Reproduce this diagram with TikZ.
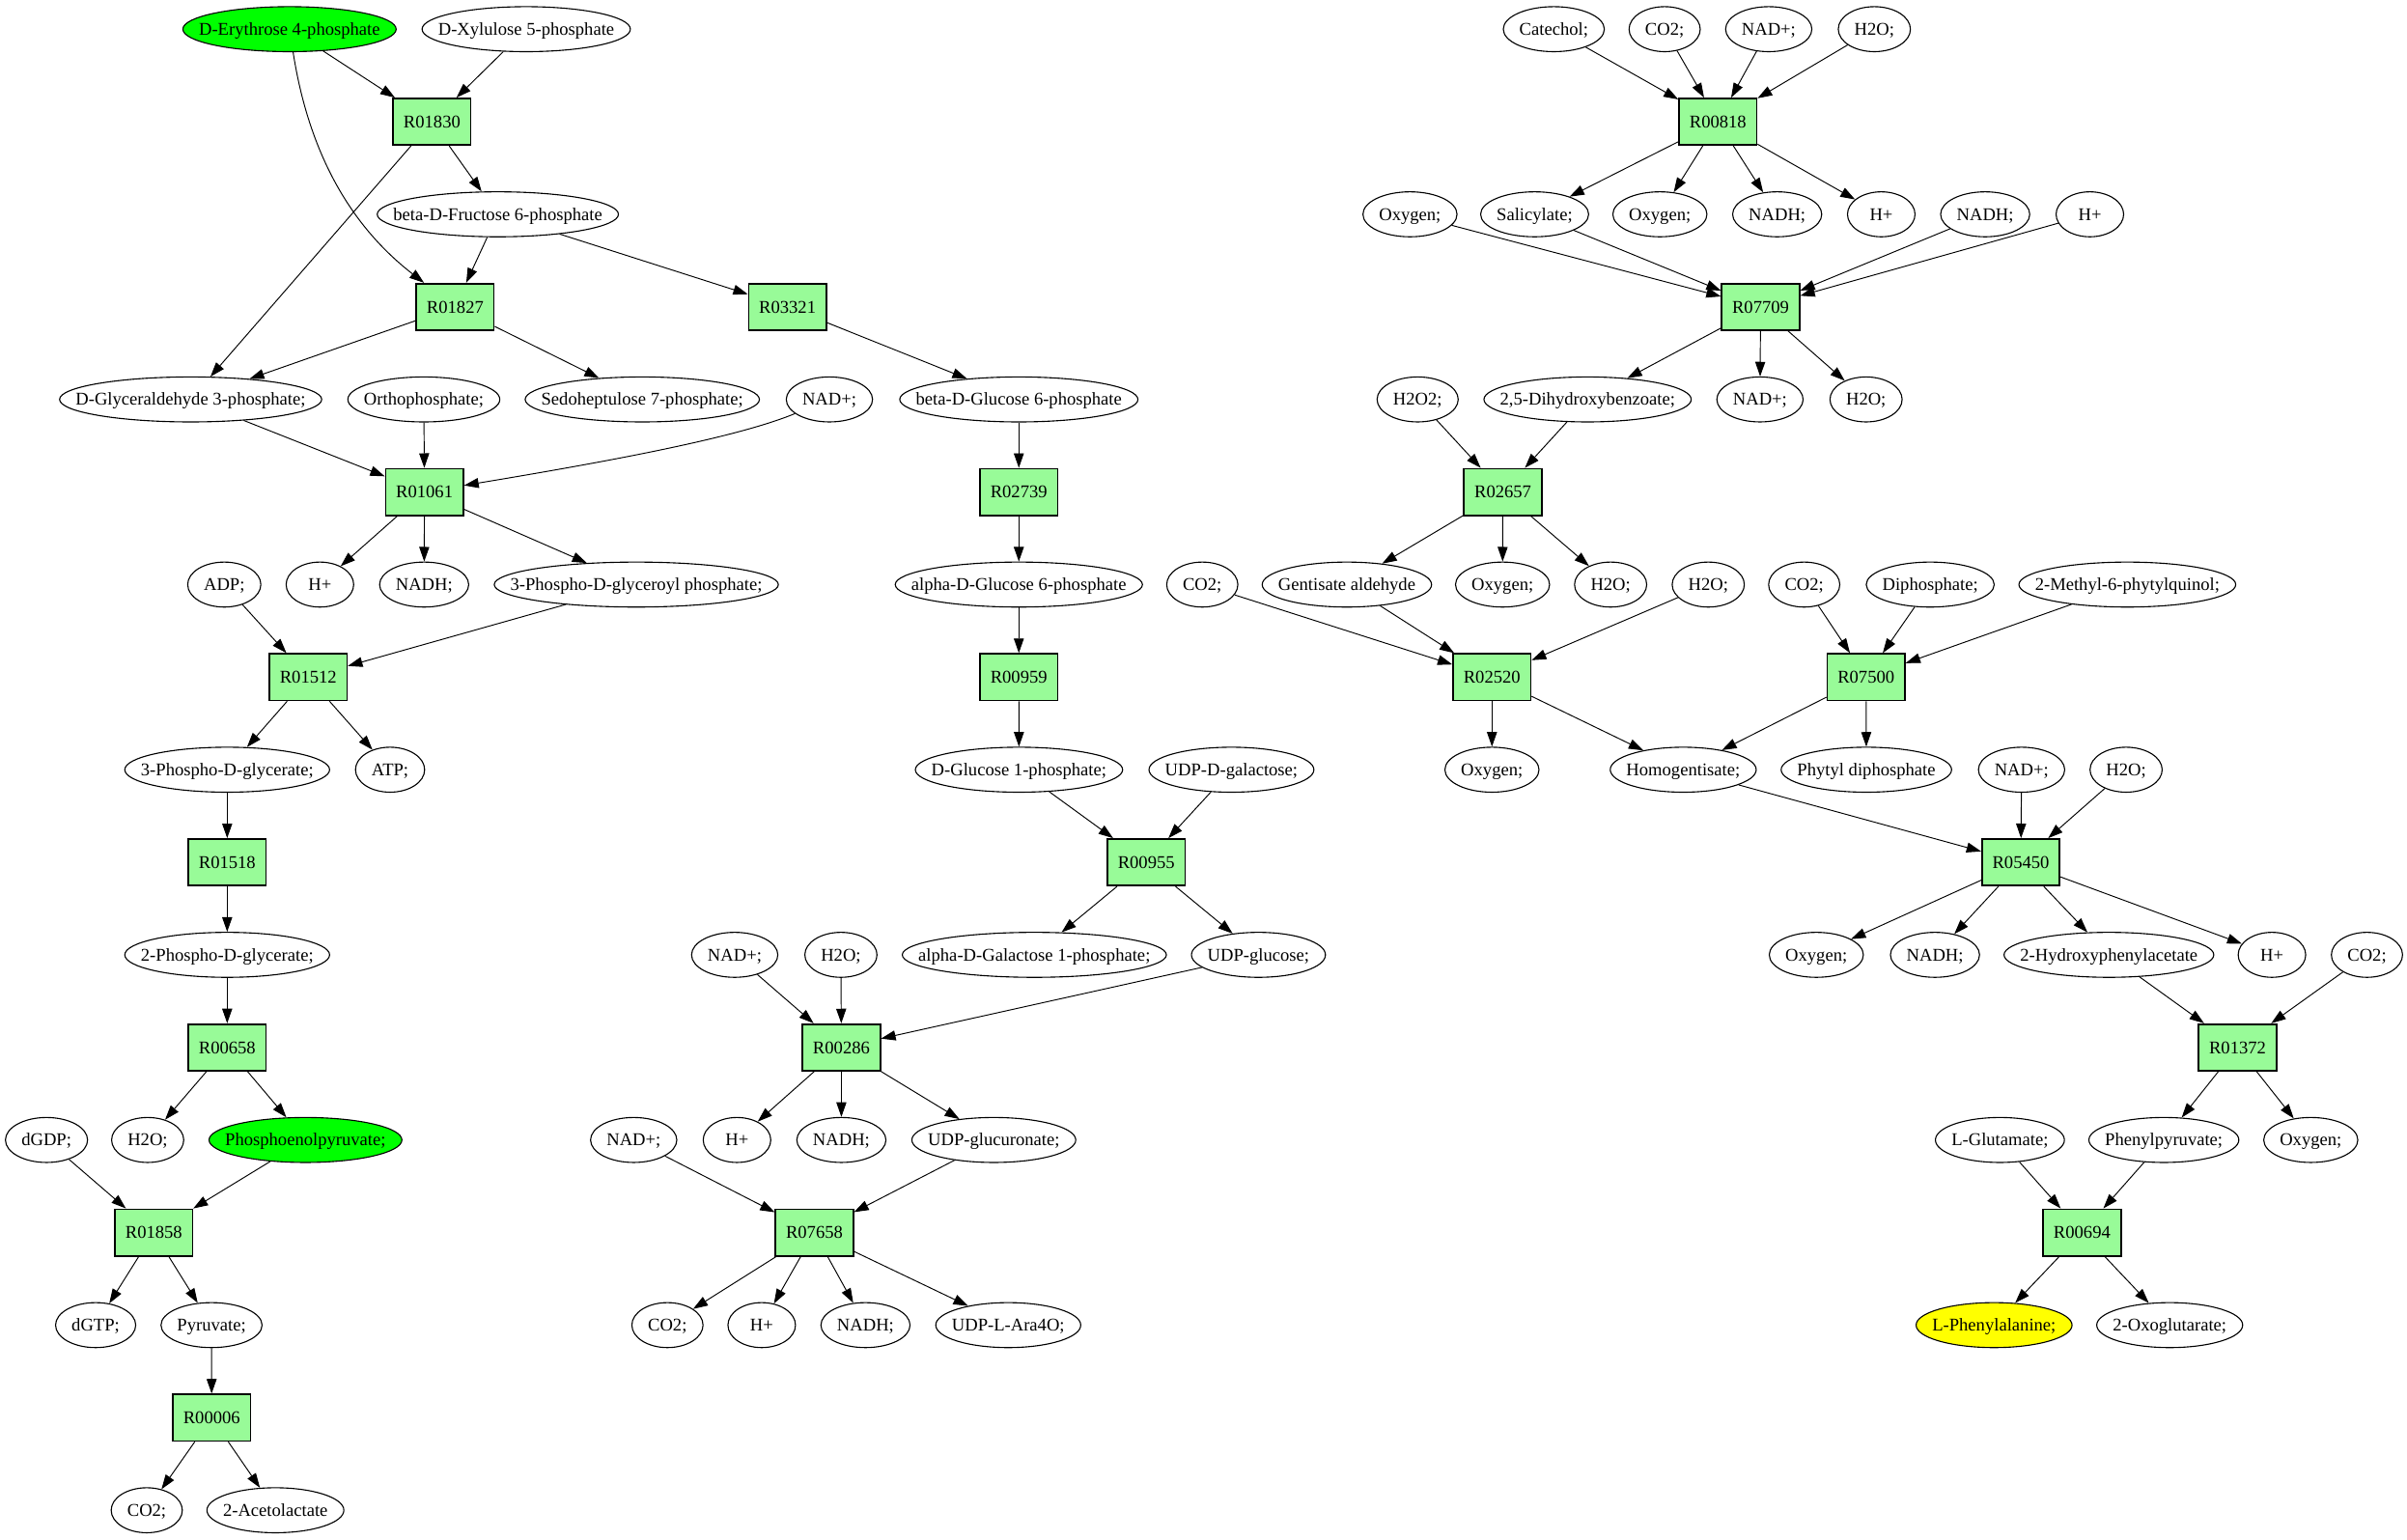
\documentclass[tikz,border=0pt]{standalone}
\usepackage{fontspec}
\setmainfont{Liberation Serif}
\usetikzlibrary{arrows.meta}
\usetikzlibrary{shapes.geometric}

\definecolor{rxngreen}{HTML}{98FB98}
\definecolor{startgreen}{HTML}{00FF00}
\definecolor{endyellow}{HTML}{FFFF00}

\newcommand{\gvfont}{\fontsize{11.7pt}{14pt}\selectfont}
\newdimen\metwidth
% metabolite ellipse: [extra style]{name}{x,y}{label}
\newcommand{\metab}[4][]{%
	\pgfinterruptpicture
		\settowidth{\metwidth}{\normalfont\gvfont #4}%
		\global\metwidth=\metwidth
	\endpgfinterruptpicture
	\global\advance\metwidth by 21pt
	\ifdim\metwidth<44pt \global\metwidth=44pt\fi
	\node[met,#1,minimum width=\metwidth] (#2) at (#3) {\makebox[0pt]{#4}};}

\begin{document}
\begin{tikzpicture}[x=1pt, y=-1pt, font=\gvfont,
	met/.style={ellipse, draw, line width=0.7pt, inner sep=0pt, minimum height=29.3pt, text height=7.8pt, text depth=0pt},
	rxn/.style={rectangle, draw, fill=rxngreen, line width=1.1pt, inner xsep=6.75pt, minimum height=30.3pt, text height=7.8pt, text depth=0pt},
	flow/.style={line width=0.6pt, -{Triangle[length=9.5pt, width=6.5pt]}}]
	%\draw[style=help lines,gray!50] (0,0) grid[step=50] (1568,1003);
	\useasboundingbox (0,0) rectangle (1568,1003);

	% row 0
	\metab[fill=startgreen]{ery4p}{188.6,19}{D-Erythrose 4-phosphate}
	\metab{xu5p}{342.8,19}{D-Xylulose 5-phosphate}
	\metab{catechol}{1012.2,19}{Catechol;}
	\metab{co2a}{1084.4,19}{CO2;}
	\metab{nada}{1152.2,19}{NAD+;}
	\metab{h2oa}{1221,19}{H2O;}
	% row 1
	\node[rxn] at (281.4,79.3) (r01830) {R01830};
	\node[rxn] at (1119.1,79.3) (r00818) {R00818};
	% row 2
	\metab{f6p}{324.3,139.6}{beta-D-Fructose 6-phosphate}
	\metab{oxya}{918.5,139.6}{Oxygen;}
	\metab{salicylate}{999.7,139.6}{Salicylate;}
	\metab{oxyb}{1081.3,139.6}{Oxygen;}
	\metab{nadha}{1157.7,139.6}{NADH;}
	\metab{hpa}{1225.5,139.6}{H+}
	\metab{nadhb}{1293.2,139.6}{NADH;}
	\metab{hpb}{1361.4,139.6}{H+}
	% row 3
	\node[rxn] at (296.5,199.9) (r01827) {R01827};
	\node[rxn] at (513,199.9) (r03321) {R03321};
	\node[rxn] at (1146.9,199.9) (r07709) {R07709};
	% row 4
	\metab{gap}{124.2,260.2}{D-Glyceraldehyde 3-phosphate;}
	\metab{pi}{276.1,260.2}{Orthophosphate;}
	\metab{s7p}{418.4,260.2}{Sedoheptulose 7-phosphate;}
	\metab{nadb}{540.3,260.2}{NAD+;}
	\metab{bg6p}{663.7,260.2}{beta-D-Glucose 6-phosphate}
	\metab{h2o2}{923.5,260.2}{H2O2;}
	\metab{dhb}{1034.2,260.2}{2,5-Dihydroxybenzoate;}
	\metab{nadc}{1146.5,260.2}{NAD+;}
	\metab{h2ob}{1215.6,260.2}{H2O;}
	% row 5
	\node[rxn] at (276.5,320.5) (r01061) {R01061};
	\node[rxn] at (663.7,320.5) (r02739) {R02739};
	\node[rxn] at (979,320.5) (r02657) {R02657};
	% row 6
	\metab{adp}{146.1,380.8}{ADP;}
	\metab{hpc}{208.4,380.8}{H+}
	\metab{nadhc}{276.3,380.8}{NADH;}
	\metab{bpg}{414.5,380.8}{3-Phospho-D-glyceroyl phosphate;}
	\metab{ag6p}{663.7,380.8}{alpha-D-Glucose 6-phosphate}
	\metab{co2b}{783.2,380.8}{CO2;}
	\metab{gald}{877.4,380.8}{Gentisate aldehyde}
	\metab{oxyc}{978.8,380.8}{Oxygen;}
	\metab{h2oc}{1049.2,380.8}{H2O;}
	\metab{h2od}{1112.8,380.8}{H2O;}
	\metab{co2c}{1175.3,380.8}{CO2;}
	\metab{ppi}{1257.4,380.8}{Diphosphate;}
	\metab{mpq}{1385.8,380.8}{2-Methyl-6-phytylquinol;}
	% row 7
	\node[rxn] at (200.8,441.1) (r01512) {R01512};
	\node[rxn] at (663.7,441.1) (r00959) {R00959};
	\node[rxn] at (971.9,441.1) (r02520) {R02520};
	\node[rxn] at (1215.6,441.1) (r07500) {R07500};
	% row 8
	\metab{pg3}{148,501.4}{3-Phospho-D-glycerate;}
	\metab{atp}{254.1,501.4}{ATP;}
	\metab{g1p}{663.8,501.4}{D-Glucose 1-phosphate;}
	\metab{udpgal}{802.2,501.4}{UDP-D-galactose;}
	\metab{oxyd}{971.9,501.4}{Oxygen;}
	\metab{hga}{1096.5,501.4}{Homogentisate;}
	\metab{phytpp}{1215.8,501.4}{Phytyl diphosphate}
	\metab{nadd}{1316.9,501.4}{NAD+;}
	\metab{h2oe}{1385,501.4}{H2O;}
	% row 9
	\node[rxn] at (148,561.7) (r01518) {R01518};
	\node[rxn] at (746.7,561.7) (r00955) {R00955};
	\node[rxn] at (1316.4,561.7) (r05450) {R05450};
	% row 10
	\metab{pg2}{148,622}{2-Phospho-D-glycerate;}
	\metab{nade}{478.6,622}{NAD+;}
	\metab{h2of}{547.8,622}{H2O;}
	\metab{gal1p}{673.8,622}{alpha-D-Galactose 1-phosphate;}
	\metab{udpglc}{819.8,622}{UDP-glucose;}
	\metab{oxye}{1183.2,622}{Oxygen;}
	\metab{nadhd}{1260.5,622}{NADH;}
	\metab{hpac}{1373.8,622}{2-Hydroxyphenylacetate}
	\metab{hpd}{1480,622}{H+}
	\metab{co2d}{1541.9,622}{CO2;}
	% row 11
	\node[rxn] at (148,682.3) (r00658) {R00658};
	\node[rxn] at (548.1,682.3) (r00286) {R00286};
	\node[rxn] at (1457.6,682.3) (r01372) {R01372};
	% row 12
	\metab{dgdp}{30.3,742.6}{dGDP;}
	\metab{h2og}{96.2,742.6}{H2O;}
	\metab[fill=startgreen]{pep}{199,742.6}{Phosphoenolpyruvate;}
	\metab{nadf}{412.8,742.6}{NAD+;}
	\metab{hpe}{480.1,742.6}{H+}
	\metab{nadhe}{548.1,742.6}{NADH;}
	\metab{udpgla}{647.4,742.6}{UDP-glucuronate;}
	\metab{glu}{1302.8,742.6}{L-Glutamate;}
	\metab{ppyr}{1409.6,742.6}{Phenylpyruvate;}
	\metab{oxyf}{1505.3,742.6}{Oxygen;}
	% row 13
	\node[rxn] at (100.2,802.9) (r01858) {R01858};
	\node[rxn] at (530.5,802.9) (r07658) {R07658};
	\node[rxn] at (1356.3,802.9) (r00694) {R00694};
	% row 14
	\metab{dgtp}{62.3,863.2}{dGTP;}
	\metab{pyr}{137.8,863.2}{Pyruvate;}
	\metab{co2e}{434.8,863.2}{CO2;}
	\metab{hpf}{496.2,863.2}{H+}
	\metab{nadhf}{563.8,863.2}{NADH;}
	\metab{udpara}{656.8,863.2}{UDP-L-Ara4O;}
	\metab[fill=endyellow]{phe}{1299,863.2}{L-Phenylalanine;}
	\metab{akg}{1413.4,863.2}{2-Oxoglutarate;}
	% row 15
	\node[rxn] at (137.9,923.5) (r00006) {R00006};
	% row 16
	\metab{co2f}{95.6,983.8}{CO2;}
	\metab{acl}{179.4,983.8}{2-Acetolactate}

	% left pathway
	\draw[flow] (ery4p) -- (r01830);
	\draw[flow] (xu5p) -- (r01830);
	\draw[flow] (r01830) -- (f6p);
	\draw[flow] (r01830) -- (gap);
	\draw[flow] (ery4p) .. controls (202,105) and (232,150) .. (r01827);
	\draw[flow] (f6p) -- (r01827);
	\draw[flow] (f6p) -- (r03321);
	\draw[flow] (r01827) -- (gap);
	\draw[flow] (r01827) -- (s7p);
	\draw[flow] (r03321) -- (bg6p);
	\draw[flow] (gap) -- (r01061);
	\draw[flow] (pi) -- (r01061);
	\draw[flow] (nadb) .. controls (480,285) and (400,300) .. (r01061);
	\draw[flow] (r01061) -- (hpc);
	\draw[flow] (r01061) -- (nadhc);
	\draw[flow] (r01061) -- (bpg);
	\draw[flow] (adp) -- (r01512);
	\draw[flow] (bpg) -- (r01512);
	\draw[flow] (r01512) -- (pg3);
	\draw[flow] (r01512) -- (atp);
	\draw[flow] (pg3) -- (r01518);
	\draw[flow] (r01518) -- (pg2);
	\draw[flow] (pg2) -- (r00658);
	\draw[flow] (r00658) -- (h2og);
	\draw[flow] (r00658) -- (pep);
	\draw[flow] (dgdp) -- (r01858);
	\draw[flow] (pep) -- (r01858);
	\draw[flow] (r01858) -- (dgtp);
	\draw[flow] (r01858) -- (pyr);
	\draw[flow] (pyr) -- (r00006);
	\draw[flow] (r00006) -- (co2f);
	\draw[flow] (r00006) -- (acl);

	% middle pathway
	\draw[flow] (bg6p) -- (r02739);
	\draw[flow] (r02739) -- (ag6p);
	\draw[flow] (ag6p) -- (r00959);
	\draw[flow] (r00959) -- (g1p);
	\draw[flow] (g1p) -- (r00955);
	\draw[flow] (udpgal) -- (r00955);
	\draw[flow] (r00955) -- (gal1p);
	\draw[flow] (r00955) -- (udpglc);
	\draw[flow] (nade) -- (r00286);
	\draw[flow] (h2of) -- (r00286);
	\draw[flow] (udpglc) -- (r00286);
	\draw[flow] (r00286) -- (hpe);
	\draw[flow] (r00286) -- (nadhe);
	\draw[flow] (r00286) -- (udpgla);
	\draw[flow] (nadf) -- (r07658);
	\draw[flow] (udpgla) -- (r07658);
	\draw[flow] (r07658) -- (co2e);
	\draw[flow] (r07658) -- (hpf);
	\draw[flow] (r07658) -- (nadhf);
	\draw[flow] (r07658) -- (udpara);

	% right pathway
	\draw[flow] (catechol) -- (r00818);
	\draw[flow] (co2a) -- (r00818);
	\draw[flow] (nada) -- (r00818);
	\draw[flow] (h2oa) -- (r00818);
	\draw[flow] (r00818) -- (salicylate);
	\draw[flow] (r00818) -- (oxyb);
	\draw[flow] (r00818) -- (nadha);
	\draw[flow] (r00818) -- (hpa);
	\draw[flow] (oxya) -- (r07709);
	\draw[flow] (salicylate) -- (r07709);
	\draw[flow] (nadhb) -- (r07709);
	\draw[flow] (hpb) -- (r07709);
	\draw[flow] (r07709) -- (dhb);
	\draw[flow] (r07709) -- (nadc);
	\draw[flow] (r07709) -- (h2ob);
	\draw[flow] (h2o2) -- (r02657);
	\draw[flow] (dhb) -- (r02657);
	\draw[flow] (r02657) -- (gald);
	\draw[flow] (r02657) -- (oxyc);
	\draw[flow] (r02657) -- (h2oc);
	\draw[flow] (co2b) -- (r02520);
	\draw[flow] (gald) -- (r02520);
	\draw[flow] (h2od) -- (r02520);
	\draw[flow] (r02520) -- (oxyd);
	\draw[flow] (r02520) -- (hga);
	\draw[flow] (co2c) -- (r07500);
	\draw[flow] (ppi) -- (r07500);
	\draw[flow] (mpq) -- (r07500);
	\draw[flow] (r07500) -- (hga);
	\draw[flow] (r07500) -- (phytpp);
	\draw[flow] (hga) -- (r05450);
	\draw[flow] (nadd) -- (r05450);
	\draw[flow] (h2oe) -- (r05450);
	\draw[flow] (r05450) -- (oxye);
	\draw[flow] (r05450) -- (nadhd);
	\draw[flow] (r05450) -- (hpac);
	\draw[flow] (r05450) -- (hpd);
	\draw[flow] (hpac) -- (r01372);
	\draw[flow] (co2d) -- (r01372);
	\draw[flow] (r01372) -- (ppyr);
	\draw[flow] (r01372) -- (oxyf);
	\draw[flow] (glu) -- (r00694);
	\draw[flow] (ppyr) -- (r00694);
	\draw[flow] (r00694) -- (phe);
	\draw[flow] (r00694) -- (akg);
\end{tikzpicture}
\end{document}
